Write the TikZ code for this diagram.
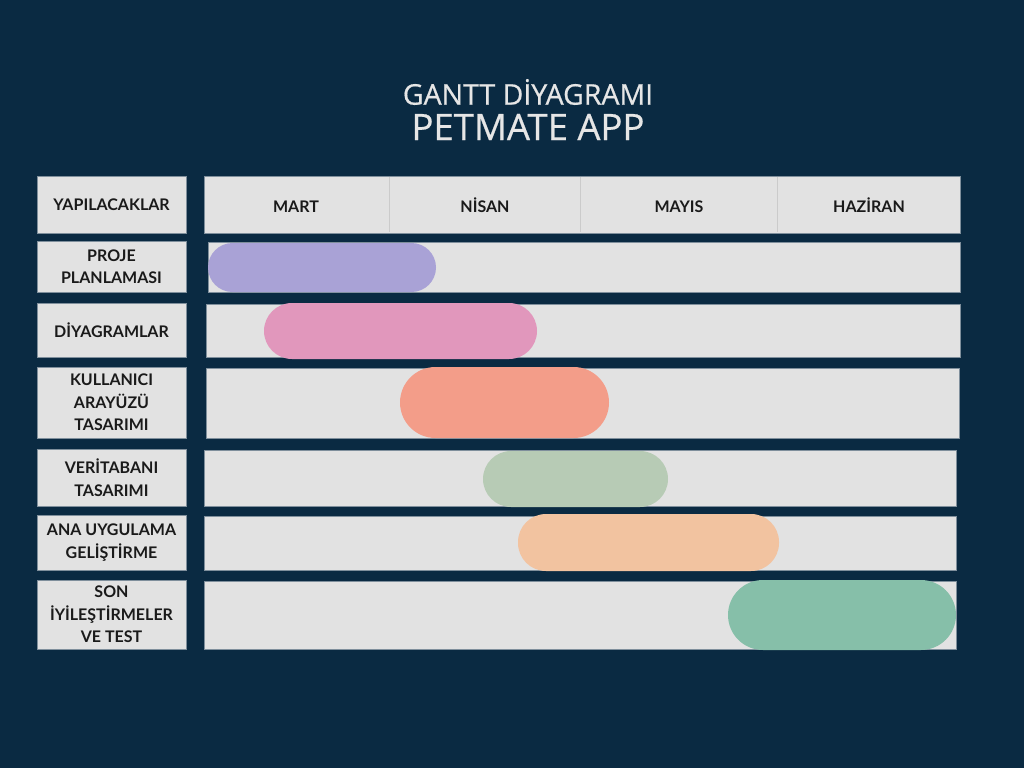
\documentclass[tikz,border=0pt]{standalone}
\usepackage{fontspec}
\setmainfont{Lato}
\newfontfamily\titlefont[FakeBold=0.6]{Open Sans}
\definecolor{navy}{HTML}{0A2A42}
\definecolor{cellgray}{HTML}{E2E2E2}
\definecolor{edgegray}{HTML}{7F8F9C}
\definecolor{ink}{HTML}{1A1A1A}
\definecolor{titlegray}{HTML}{E6E6E6}
\definecolor{lilac}{HTML}{A9A2D6}
\definecolor{rose}{HTML}{E197BC}
\definecolor{salmon}{HTML}{F39D89}
\definecolor{sage}{HTML}{B7CBB5}
\definecolor{peach}{HTML}{F2C3A0}
\definecolor{mint}{HTML}{86BFA9}
\begin{document}
\begin{tikzpicture}[x=1pt,y=-1pt,
  cell/.style={fill=cellgray,draw=edgegray,line width=0.5pt},
  lbl/.style={align=center,text=ink,font=\bfseries\fontsize{16}{22.5}\selectfont},
  ttl/.style={text=titlegray}]
\fill[navy] (0,0) rectangle (1024,768);
\useasboundingbox (0,0) rectangle (1024,768);
% title
\node[ttl,font=\titlefont\fontsize{28.5}{32}\selectfont] (gantt) at (528,92) {GANTT DİYAGRAMI};
\node[ttl,font=\titlefont\fontsize{36.5}{40}\selectfont] (app) at (528,127) {PETMATE APP};
% header
\draw[cell] (37,176) rectangle (186,233);
\node[lbl,anchor=base] (todo) at (111.5,210.5) {YAPILACAKLAR};
\draw[cell] (204,176) rectangle (960,233);
\foreach \x in {389,580,777}
  \draw[cellgray!90!black,line width=0.6pt] (\x,177) -- (\x,232);
\foreach \cx/\name/\txt in {296/mart/MART,485/nisan/NİSAN,679/mayis/MAYIS,869/haziran/HAZİRAN}
  \node[lbl,anchor=base] (\name) at (\cx,212) {\txt};
% task rows
\foreach \top/\bot/\lx/\rx/\name/\txt in {
  241/292/208/960/proje/{PROJE\\PLANLAMASI},
  303/357/206/960/diyagram/{DİYAGRAMLAR},
  367/438/206/959/arayuz/{KULLANICI\\ARAYÜZÜ\\TASARIMI},
  449/506/204/956/veritabani/{VERİTABANI\\TASARIMI},
  515/570/204/956/uygulama/{ANA UYGULAMA\\GELİŞTİRME},
  580/649/204/956/test/{SON\\İYİLEŞTİRMELER\\VE TEST}}{
  \draw[cell] (37,\top) rectangle (186,\bot);
  \node[lbl] (\name) at (111.5,{(\top+\bot)/2}) {\txt};
  \draw[cell] (\lx,\top+1) rectangle (\rx,\bot);
}
% bars
\fill[lilac,rounded corners=24.5pt] (208,243) rectangle (436,292);
\fill[rose,rounded corners=28pt] (264,303) rectangle (537,359);
\fill[salmon,rounded corners=35.5pt] (400,367) rectangle (609,438);
\fill[sage,rounded corners=28pt] (483,451) rectangle (668,507);
\fill[peach,rounded corners=28pt] (518,514) rectangle (779,571);
\fill[mint,rounded corners=35pt] (728,580) rectangle (956,650);
\end{tikzpicture}
\end{document}
